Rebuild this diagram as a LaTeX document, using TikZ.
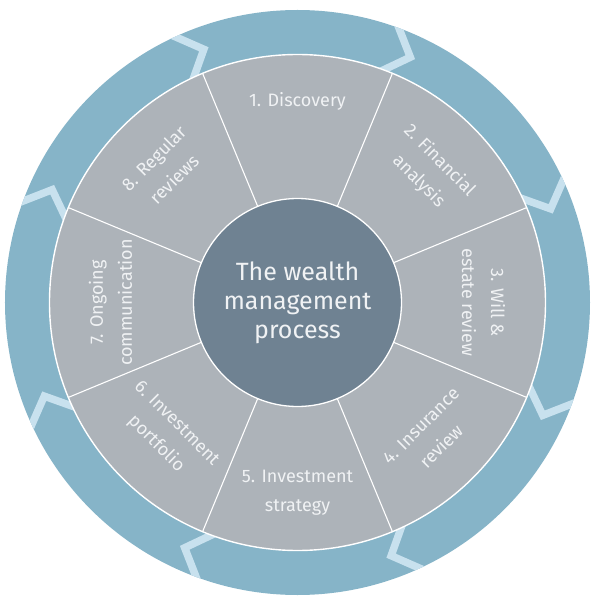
\documentclass[tikz,border=0pt]{standalone}
\usepackage{fontspec}
\setmainfont{Fira Sans}
\usetikzlibrary{calc}
\definecolor{ringblue}{HTML}{86B4C8}
\definecolor{chevblue}{HTML}{C8E1EE}
\definecolor{seggray}{HTML}{ADB3B9}
\definecolor{centergray}{HTML}{6F8292}
\definecolor{txtwhite}{HTML}{F0F2F4}
\tikzset{
  chev/.style={draw=chevblue, line width=7.5pt, line join=miter},
  divider/.style={draw=white, line width=1.1pt},
  seglabel/.style={text=txtwhite, align=center, font=\fontsize{18}{29}\selectfont},
  centerlabel/.style={circle, fill=centergray, draw=white, line width=1.3pt, minimum size=208pt, inner sep=0pt,
    text=txtwhite, align=center, font=\fontsize{25}{29}\selectfont}
}
\begin{document}
\begin{tikzpicture}[x=1pt,y=1pt]
\useasboundingbox (-297.5,-310.5) rectangle (303.5,302.5);
% outer ring
\fill[ringblue] (0,0) circle (292.5);
\begin{scope}
  \clip (0,0) circle (292.5);
  \foreach \a in {22.5,67.5,...,337.5} {
    \draw[chev] ($(\a+2.2:292.5)!-0.25!(\a-2.2:270)$) -- (\a-2.2:270) -- ($(\a+2.2:248)!-0.25!(\a-2.2:270)$);
  }
\end{scope}
% segments
\fill[seggray] (0,0) circle (248);
\draw[white, line width=1.4pt] (0,0) circle (248);
\foreach \a in {22.5,67.5,...,337.5} {
  \draw[divider] (\a:100) -- (\a:248);
}
% center
\node[centerlabel] (center) at (0,0) {The wealth\\management\\process};
% labels
\node[seglabel] (s1) at (90:201) {1. Discovery};
\node[seglabel, rotate=-45] (s2) at (45:186) {2. Financial\\analysis};
\node[seglabel, rotate=-90] (s3) at (0:186) {3. Will \&\\estate review};
\node[seglabel, rotate=45] (s4) at (-45:189) {4. Insurance\\review};
\node[seglabel] (s5) at (-90:190) {5. Investment\\strategy};
\node[seglabel, rotate=-45] (s6) at (-135:186) {6. Investment\\portfolio};
\node[seglabel, rotate=90] (s7) at (180:187) {7. Ongoing\\communication};
\node[seglabel, rotate=45] (s8) at (135:189) {8. Regular\\reviews};
\end{tikzpicture}
\end{document}
